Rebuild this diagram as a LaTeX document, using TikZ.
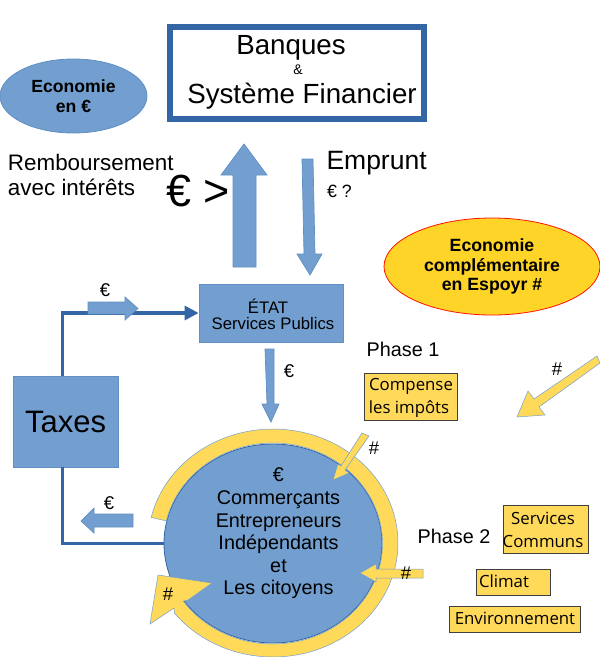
\documentclass[tikz,border=0pt]{standalone}
\usepackage{fontspec}
\setmainfont{Liberation Sans}
\newfontfamily\boxfont{Open Sans}
\usetikzlibrary{shapes.geometric,arrows.meta}
\definecolor{bluefill}{HTML}{729FCF}
\definecolor{blueline}{HTML}{3465A4}
\definecolor{goldfill}{HTML}{FFD95A}
\definecolor{goldstrong}{HTML}{FFD428}
\newcommand{\fs}[2]{\fontsize{#1}{#2}\selectfont}
\tikzset{
  x=1pt,y=-1pt,
  txt/.style={inner sep=0pt,outer sep=0pt,text=black,align=center},
  bluebox/.style={draw=bluefill!75!blueline,line width=0.8pt,fill=bluefill,inner sep=0pt,align=center},
  goldbox/.style={draw=black!75,line width=0.7pt,fill=goldfill,inner sep=0pt,align=left},
  goldtxt/.style={txt,font=\boxfont\fs{16.8}{18}},
  blockblue/.style={draw=bluefill!70!blueline,line width=0.7pt,fill=bluefill,line join=miter},
  blockgold/.style={draw=bluefill,line width=0.5pt,fill=goldfill,line join=miter},
  link/.style={draw=blueline,line width=3.2pt,line join=miter},
  small/.style={txt,font=\fs{18.5}{20}},
}
\begin{document}
\begin{tikzpicture}
\useasboundingbox (0,0) rectangle (600,657);
% top frame
\node[draw=blueline,line width=6pt,fill=white,minimum width=254pt,minimum height=92pt,inner sep=0pt] (banques) at (297,73) {};
\node[txt,font=\fs{27.7}{30}] (t1) at (291,47.5) {Banques};
\node[txt,font=\fs{14}{15}] (t2) at (298,70) {\&};
\node[txt,font=\fs{27.7}{30}] (t3) at (302,96) {Système Financier};
% ellipses
\node[ellipse,draw=bluefill!70!blueline,line width=0.8pt,fill=bluefill,minimum width=147pt,minimum height=74pt,inner sep=0pt,align=center,font=\bfseries\fs{17.6}{20}] (eur) at (73.5,96) {Economie\\en €};
\node[ellipse,draw=red!85!orange,line width=0.8pt,fill=goldstrong,minimum width=216pt,minimum height=97pt,inner sep=0pt,align=center,font=\bfseries\fs{17.7}{19.7}] (esp) at (492,266.5) {Economie\\complémentaire\\en Espoyr \#};
% labels
\node[txt,anchor=west,align=left,font=\fs{22.4}{25}] (remb) at (8,175) {Remboursement\\avec intérêts};
\node[txt,anchor=west,font=\fs{45}{48}] (gt) at (166,191) {€ >};
\node[txt,anchor=west,font=\fs{26.5}{28}] (emp) at (326.5,163) {Emprunt};
\node[txt,anchor=west,font=\fs{17.8}{20}] (q) at (327,191) {€ ?};
% block arrows top
\draw[blockblue] (244,144) -- (267,175) -- (256,175) -- (256,267) -- (233,267) -- (233,175) -- (221,175) -- cycle;
\draw[blockblue] (302,159) -- (313,159) -- (315,254) -- (322,254) -- (310,275) -- (297,254) -- (304,254) -- cycle;
% etat and taxes
\node[bluebox,minimum width=144pt,minimum height=58pt] (etat) at (271,313) {};
\node[txt,font=\fs{16.7}{18}] (e1) at (268,306.5) {ÉTAT};
\node[txt,font=\fs{16.7}{18}] (e2) at (273,324) {Services Publics};
\node[bluebox,minimum width=105pt,minimum height=91pt,font=\fs{31}{32}] (taxes) at (65.5,421.5) {Taxes};
% circle
\node[ellipse,draw=blueline,line width=0.8pt,fill=bluefill,minimum width=218pt,minimum height=199pt,inner sep=0pt] (cit) at (273,543.5) {};
\node[txt,font=\fs{19.8}{22.6}] (cittxt) at (278.5,533.5) {€\\Commerçants\\Entrepreneurs\\Indépendants\\et\\Les citoyens};
% connectors
\coordinate (taxN) at (62.5,376);
\coordinate (taxS) at (62.5,467);
\draw[link,-{Triangle[length=14pt,width=14pt]}] (taxN) |- (etat.west);
\draw[link] (taxS) |- (cit.west);
% ring with head
\draw[blockgold] plot[domain=193:502,samples=90] ({273+125*cos(\x)},{543+114*sin(\x)})
  -- (174,608) -- (150,624) -- (158,575) -- (212,583) -- (188,600)
  -- plot[domain=505:193,samples=90] ({273+109.5*cos(\x)},{543.5+100.5*sin(\x)}) -- cycle;
% small blue arrows
\draw[blockblue] (88,302) -- (125,302) -- (125,297) -- (138,308.5) -- (125,320) -- (125,314) -- (88,314) -- cycle;
\draw[blockblue] (133,514) -- (94,514) -- (94,508) -- (81,521) -- (94,533) -- (94,527) -- (133,527) -- cycle;
\draw[blockblue] (265,349) -- (274,349) -- (274,404) -- (279,404) -- (271,422) -- (262,404) -- (267,404) -- cycle;
\node[small] (l1) at (105,290) {€};
\node[small] (l2) at (109,503) {€};
\node[small] (l3) at (289,371) {€};
% gold arrows
\draw[blockgold] (362,433) -- (369,436) -- (345,470) -- (349,473) -- (333,480) -- (338,464) -- (341,466) -- cycle;
\draw[blockgold] (423,569) -- (376,569) -- (376,564) -- (360,573) -- (376,582) -- (376,578) -- (423,578) -- cycle;
\draw[blockgold] (597,356) -- (600,363) -- (539,407) -- (545,415) -- (517,417) -- (528,391) -- (534,399) -- cycle;
\node[small] (h1) at (374,448) {\#};
\node[small] (h2) at (406,573) {\#};
\node[small] (h3) at (168,594) {\#};
\node[small] (h4) at (557,369) {\#};
% phases
\node[txt,font=\fs{19.8}{22}] (p1) at (403,349.5) {Phase 1};
\node[txt,font=\fs{19.8}{22}] (p2) at (454,536.5) {Phase 2};
% gold boxes
\node[goldbox,minimum width=93pt,minimum height=47pt] (b1) at (410.5,396.5) {};
\node[goldtxt] (b1a) at (411,386) {Compense};
\node[goldtxt] (b1b) at (409,409) {les impôts};
\node[goldbox,minimum width=85pt,minimum height=48pt] (b2) at (545.5,529) {};
\node[goldtxt] (b2a) at (543,518) {Services};
\node[goldtxt] (b2b) at (543,541) {Communs};
\node[goldbox,minimum width=74pt,minimum height=26pt] (b3) at (513,582) {};
\node[goldtxt,anchor=west] (b3a) at (479,581.5) {Climat};
\node[goldbox,minimum width=131pt,minimum height=26pt] (b4) at (514.5,619) {};
\node[goldtxt] (b4a) at (515,618.5) {Environnement};
\end{tikzpicture}
\end{document}
